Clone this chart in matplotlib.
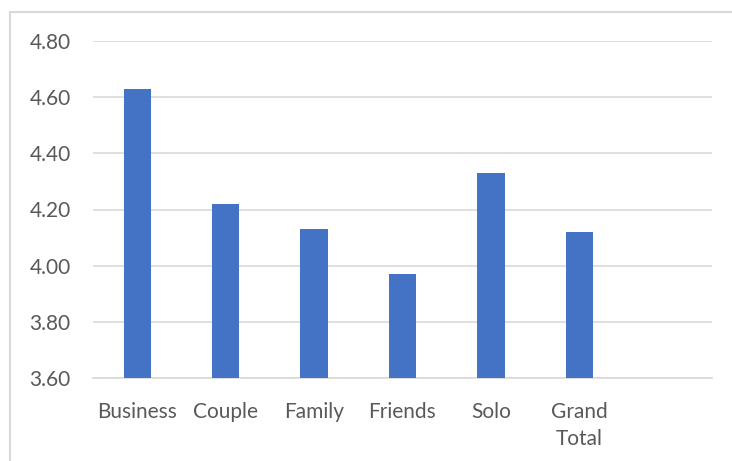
import matplotlib
matplotlib.use("Agg")
import matplotlib.pyplot as plt
from matplotlib.patches import Rectangle

# data
categories = ['Business', 'Couple', 'Family', 'Friends', 'Solo', 'Grand\nTotal', '']
ratings = [4.63, 4.22, 4.13, 3.97, 4.33, 4.12, None]
yticks = [3.60, 3.80, 4.00, 4.20, 4.40, 4.60, 4.80]

plt.rcParams['font.family'] = ['Lato', 'DejaVu Sans']
text_color = '#595959'
bar_color = '#4472C4'
grid_color = '#D9D9D9'

fig = plt.figure(figsize=(7.32, 4.61), dpi=100)
fig.patches.append(Rectangle((10 / 732, -0.05), 1.2, (461 - 12) / 461 + 0.05,
                             transform=fig.transFigure, fill=False,
                             edgecolor='#D9D9D9', linewidth=1.5))

ax = fig.add_axes([93 / 732, (461 - 378) / 461, (712 - 93) / 732, (378 - 41) / 461])

idx = [i for i, v in enumerate(ratings) if v is not None]
vals = [ratings[i] for i in idx]
ax.bar(idx, [v - yticks[0] for v in vals], bottom=yticks[0], width=0.31,
       color=bar_color, zorder=3)

ax.set_xlim(-0.5, len(categories) - 0.5)
ax.set_ylim(yticks[0], yticks[-1])
ax.set_yticks(yticks)
ax.set_yticklabels(['%.2f' % t for t in yticks])
ax.set_xticks(range(len(categories)))
ax.set_xticklabels(categories, linespacing=1.45)

ax.yaxis.grid(True, color=grid_color, linewidth=1.2, zorder=0)
for s in ['top', 'right', 'left']:
    ax.spines[s].set_visible(False)
ax.spines['bottom'].set_color(grid_color)
ax.spines['bottom'].set_linewidth(1.2)
ax.tick_params(axis='both', length=0, labelsize=15, colors=text_color)
ax.tick_params(axis='y', pad=16)
ax.tick_params(axis='x', pad=17)

plt.savefig('out.png', dpi=100)
